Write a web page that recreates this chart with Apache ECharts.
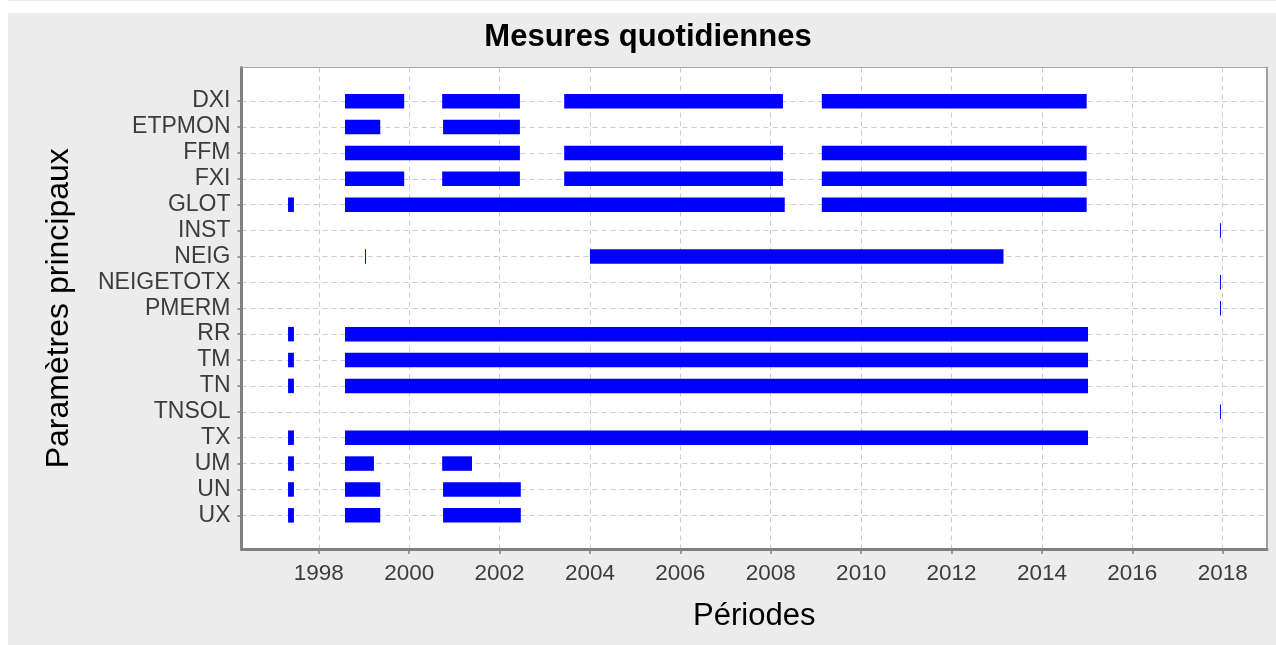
<!DOCTYPE html>
<html>
<head>
<meta charset="utf-8">
<script src="https://cdn.jsdelivr.net/npm/echarts@6/dist/echarts.min.js"></script>
<style>
html,body{margin:0;padding:0;background:#fff;}
#chart{width:1276px;height:645px;}
</style>
</head>
<body>
<div id="chart"></div>
<script>
// ---- data ----
const categories = ['DXI','ETPMON','FFM','FXI','GLOT','INST','NEIG','NEIGETOTX','PMERM','RR','TM','TN','TNSOL','TX','UM','UN','UX'];
const xTickValues = [1998,2000,2002,2004,2006,2008,2010,2012,2014,2016,2018];

const DXI = [[1998.58,1999.89],[2000.73,2002.45],[2003.43,2008.27],[2009.13,2014.99]];
const ETPMON = [[1998.58,1999.36],[2000.75,2002.45]];
const FFM = [[1998.58,2002.45],[2003.43,2008.27],[2009.13,2014.99]];
const FXI = [[1998.58,1999.89],[2000.73,2002.45],[2003.43,2008.27],[2009.13,2014.99]];
const GLOT = [[1997.32,1997.45],[1998.58,2008.31],[2009.13,2014.99]];
const INST = [[2017.93,2017.95]];
const NEIG = [[1999.03,1999.05],[2004.00,2013.15]];
const NEIGETOTX = [[2017.93,2017.95]];
const PMERM = [[2017.93,2017.95]];
const RR = [[1997.32,1997.45],[1998.58,2015.02]];
const TM = [[1997.32,1997.45],[1998.58,2015.02]];
const TN = [[1997.32,1997.45],[1998.58,2015.02]];
const TNSOL = [[2017.93,2017.95]];
const TX = [[1997.32,1997.45],[1998.58,2015.02]];
const UM = [[1997.32,1997.45],[1998.58,1999.22],[2000.73,2001.39]];
const UN = [[1997.32,1997.45],[1998.58,1999.36],[2000.75,2002.47]];
const UX = [[1997.32,1997.45],[1998.58,1999.36],[2000.75,2002.47]];

const periods = [DXI,ETPMON,FFM,FXI,GLOT,INST,NEIG,NEIGETOTX,PMERM,RR,TM,TN,TNSOL,TX,UM,UN,UX];

// ---- build ----
const seriesData = [];
periods.forEach((segs, i) => segs.forEach(s => seriesData.push([i, s[0], s[1]])));
const yTickValues = categories.map((c, i) => i);

const FONT = '"Liberation Sans", Arial, sans-serif';
const chart = echarts.init(document.getElementById('chart'), null, {renderer:'canvas'});

function renderItem(params, api){
  const c = api.value(0);
  const s = api.coord([api.value(1), c]);
  const e = api.coord([api.value(2), c]);
  const h = api.size([0, 1])[1] * 0.56;
  let x = s[0];
  let w = e[0] - s[0];
  if (w < 2) { x = Math.round(x); w = 1; }
  return {type:'rect', shape:{x:x, y:s[1] - h/2, width:w, height:h}, style:{fill:'#0000ff'}};
}

const gridLine = {show:true, lineStyle:{color:'#cccccc', width:1, type:[5,4]}};

chart.setOption({
  backgroundColor:'#ececec',
  animation:false,
  title:{
    text:'Mesures quotidiennes',
    left:643, top:17, textAlign:'center',
    textStyle:{fontFamily:FONT, fontWeight:'bold', fontSize:31, color:'#000'}
  },
  graphic:[
    {type:'rect', shape:{x:0, y:0, width:1276, height:13}, style:{fill:'#ffffff'}},
    {type:'rect', shape:{x:0, y:0, width:8, height:645}, style:{fill:'#ffffff'}},
    {type:'rect', shape:{x:8, y:0, width:1268, height:1}, style:{fill:'#eeeeee'}}
  ],
  grid:{left:241.5, top:67.5, right:9, bottom:96, show:true, backgroundColor:'#ffffff', borderWidth:0},
  xAxis:[{
    type:'value', min:1996.29, max:2018.98,
    name:'Périodes', nameLocation:'middle', nameGap:52,
    nameTextStyle:{fontFamily:FONT, fontSize:31, color:'#000'},
    axisLine:{show:true, onZero:false, lineStyle:{color:'#808080', width:3}},
    axisTick:{show:true, length:5, customValues:xTickValues, lineStyle:{color:'#808080', width:1.5}},
    axisLabel:{customValues:xTickValues, margin:13, fontFamily:FONT, fontSize:22.5, color:'#3c3c3c', formatter:v => String(v)},
    splitLine:gridLine
  },{
    type:'value', min:1996.29, max:2018.98, position:'top',
    axisLine:{show:true, onZero:false, lineStyle:{color:'#a8a8a8', width:1.2}},
    axisTick:{show:false}, axisLabel:{show:false}, splitLine:{show:false}
  }],
  yAxis:[{
    type:'value', min:-1.3, max:17.3, inverse:true,
    name:'Paramètres principaux', nameLocation:'middle', nameGap:166,
    nameTextStyle:{fontFamily:FONT, fontSize:32, color:'#000'},
    axisLine:{show:true, onZero:false, lineStyle:{color:'#808080', width:3}},
    axisTick:{show:true, length:4, customValues:yTickValues, lineStyle:{color:'#808080', width:1.5}},
    axisLabel:{customValues:yTickValues, margin:11, fontFamily:FONT, fontSize:23, color:'#3c3c3c', formatter:v => categories[v], padding:[5,0,0,0]},
    splitLine:gridLine
  },{
    type:'value', min:-1.3, max:17.3, inverse:true, position:'right',
    axisLine:{show:true, onZero:false, lineStyle:{color:'#a0a0a0', width:2}},
    axisTick:{show:false}, axisLabel:{show:false}, splitLine:{show:false}
  }],
  series:[{
    type:'custom',
    xAxisIndex:0, yAxisIndex:0,
    renderItem:renderItem,
    encode:{x:[1,2], y:0},
    data:seriesData
  }]
});
</script>
</body>
</html>
